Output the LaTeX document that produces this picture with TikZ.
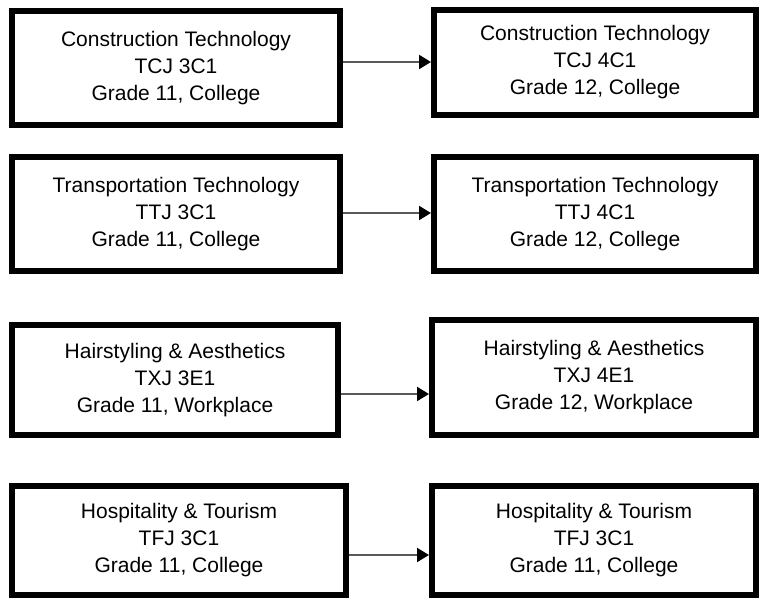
\documentclass[tikz,border=0pt]{standalone}
\usepackage{fontspec}
\setmainfont{Liberation Sans}
\usetikzlibrary{arrows.meta,positioning}

\begin{document}
\begin{tikzpicture}[x=1pt, y=-1pt,
  course/.style={draw, line width=6pt, fill=white, align=center, inner sep=0pt,
    font=\fontsize{21}{27}\selectfont},
  link/.style={line width=2pt, black!65, -{Triangle[length=12pt,width=14pt,color=black]}}]
\useasboundingbox[fill=white] (0,0) rectangle (760,599);

% Construction
\node[course, minimum width=328pt, minimum height=114pt] (tcj3) at (176,68)
  {Construction Technology\\TCJ 3C1\\Grade 11, College};
\node[course, minimum width=322pt, minimum height=105pt] (tcj4) at (595,62.5)
  {Construction Technology\\TCJ 4C1\\Grade 12, College};
\draw[link] (tcj3.east |- 0,62) -- (tcj4.west |- 0,62);

% Transportation
\node[course, minimum width=328pt, minimum height=114pt] (ttj3) at (176,214)
  {Transportation Technology\\TTJ 3C1\\Grade 11, College};
\node[course, minimum width=322pt, minimum height=114pt] (ttj4) at (595,214)
  {Transportation Technology\\TTJ 4C1\\Grade 12, College};
\draw[link] (ttj3.east |- 0,213) -- (ttj4.west |- 0,213);

% Hairstyling
\node[course, minimum width=326pt, minimum height=110pt] (txj3) at (175,380)
  {Hairstyling \& Aesthetics\\TXJ 3E1\\Grade 11, Workplace};
\node[course, minimum width=324pt, minimum height=115pt] (txj4) at (594,377.5)
  {Hairstyling \& Aesthetics\\TXJ 4E1\\Grade 12, Workplace};
\draw[link] (txj3.east |- 0,394) -- (txj4.west |- 0,394);

% Hospitality
\node[course, minimum width=334pt, minimum height=109pt] (tfj3) at (179,540.5)
  {Hospitality \& Tourism\\TFJ 3C1\\Grade 11, College};
\node[course, minimum width=324pt, minimum height=109pt] (tfj4) at (594,540.5)
  {Hospitality \& Tourism\\TFJ 3C1\\Grade 11, College};
\draw[link] (tfj3.east |- 0,555) -- (tfj4.west |- 0,555);
\end{tikzpicture}
\end{document}
